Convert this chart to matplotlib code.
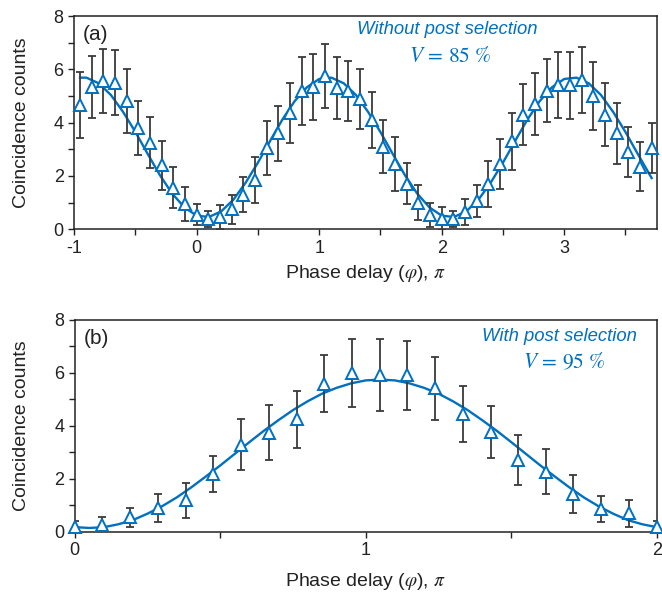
import matplotlib
matplotlib.use("Agg")
import matplotlib.pyplot as plt
from matplotlib.ticker import MultipleLocator

plt.rcParams['font.family'] = ['Liberation Sans', 'DejaVu Sans']
plt.rcParams['mathtext.fontset'] = 'stix'
plt.rcParams['axes.unicode_minus'] = False

BLUE = '#0070C0'
BAR = '#3a3a3a'

######## data, panel (a): without post selection #########

phase_a = [-0.952, -0.857, -0.762, -0.667, -0.571, -0.476, -0.381, -0.286, -0.190, -0.095,
           0.000, 0.095, 0.190, 0.286, 0.381, 0.476, 0.571, 0.667, 0.762, 0.857,
           0.952, 1.048, 1.143, 1.238, 1.333, 1.429, 1.524, 1.619, 1.714, 1.810,
           1.905, 2.000, 2.095, 2.190, 2.286, 2.381, 2.476, 2.571, 2.667, 2.762,
           2.857, 2.952, 3.048, 3.143, 3.238, 3.333, 3.429, 3.524, 3.619, 3.714]
counts_a = [4.65, 5.35, 5.55, 5.5, 4.8, 3.8, 3.25, 2.4, 1.55, 0.95,
            0.55, 0.4, 0.45, 0.75, 1.3, 1.85, 3.05, 3.6, 4.35, 5.2,
            5.35, 5.75, 5.3, 5.2, 4.9, 4.1, 3.1, 2.45, 1.7, 1.0,
            0.55, 0.4, 0.4, 0.65, 1.05, 1.7, 2.45, 3.3, 4.3, 4.7,
            5.2, 5.4, 5.4, 5.6, 5.0, 4.3, 3.6, 2.9, 2.35, 3.05]
err_a = [1.24, 1.17, 1.2, 1.22, 1.2, 1.0, 0.95, 0.92, 0.77, 0.63,
         0.4, 0.3, 0.45, 0.55, 0.65, 0.87, 1.0, 1.03, 1.13, 1.28,
         1.24, 1.19, 1.18, 1.12, 1.13, 1.05, 1.0, 1.0, 0.77, 0.65,
         0.45, 0.42, 0.3, 0.5, 0.6, 0.85, 0.94, 1.07, 1.15, 1.18,
         1.18, 1.24, 1.25, 1.23, 1.26, 1.19, 1.15, 0.94, 0.93, 0.92]

# fit line
fit_x_a = [-0.952, -0.9, -0.8, -0.7, -0.6, -0.5, -0.4, -0.3, -0.2, -0.1,
           0.0, 0.1, 0.2, 0.3, 0.4, 0.5, 0.6, 0.7, 0.8, 0.9,
           1.0, 1.1, 1.2, 1.3, 1.4, 1.5, 1.6, 1.7, 1.8, 1.9,
           2.0, 2.1, 2.2, 2.3, 2.4, 2.5, 2.6, 2.7, 2.8, 2.9,
           3.0, 3.1, 3.2, 3.3, 3.4, 3.5, 3.6, 3.7, 3.714]
fit_y_a = [5.69, 5.69, 5.48, 5.04, 4.40, 3.65, 2.83, 2.03, 1.34, 0.82,
           0.51, 0.46, 0.67, 1.11, 1.75, 2.50, 3.32, 4.12, 4.81, 5.33,
           5.64, 5.69, 5.48, 5.04, 4.40, 3.65, 2.83, 2.03, 1.34, 0.82,
           0.51, 0.46, 0.67, 1.11, 1.75, 2.50, 3.32, 4.12, 4.81, 5.33,
           5.64, 5.69, 5.48, 5.04, 4.40, 3.65, 2.83, 2.03, 1.92]

######## data, panel (b): with post selection #########

phase_b = [0.000, 0.095, 0.190, 0.286, 0.381, 0.476, 0.571, 0.667, 0.762, 0.857, 0.952,
           1.048, 1.143, 1.238, 1.333, 1.429, 1.524, 1.619, 1.714, 1.810, 1.905, 2.000]
counts_b = [0.2, 0.25, 0.55, 0.9, 1.2, 2.2, 3.3, 3.75, 4.25, 5.6, 6.0,
            5.92, 5.92, 5.42, 4.46, 3.76, 2.72, 2.28, 1.42, 0.87, 0.7, 0.2]
err_b = [0.2, 0.33, 0.37, 0.52, 0.66, 0.68, 0.95, 1.05, 1.07, 1.07, 1.3,
         1.37, 1.3, 1.2, 1.06, 0.98, 0.93, 0.85, 0.72, 0.5, 0.5, 0.22]

fit_x_b = [0.0, 0.05, 0.1, 0.15, 0.2, 0.25, 0.3, 0.35, 0.4, 0.45, 0.5,
           0.55, 0.6, 0.65, 0.7, 0.75, 0.8, 0.85, 0.9, 0.95, 1.0,
           1.05, 1.1, 1.15, 1.2, 1.25, 1.3, 1.35, 1.4, 1.45, 1.5,
           1.55, 1.6, 1.65, 1.7, 1.75, 1.8, 1.85, 1.9, 1.95, 2.0]
fit_y_b = [0.18, 0.15, 0.18, 0.29, 0.45, 0.69, 0.97, 1.30, 1.68, 2.09, 2.51,
           2.95, 3.39, 3.82, 4.22, 4.60, 4.93, 5.22, 5.44, 5.61, 5.72,
           5.75, 5.72, 5.61, 5.44, 5.22, 4.93, 4.60, 4.22, 3.82, 3.39,
           2.95, 2.51, 2.09, 1.68, 1.30, 0.97, 0.69, 0.45, 0.29, 0.18]

fig = plt.figure(figsize=(6.62, 5.97), dpi=100)
ax_a = fig.add_axes([0.112, 0.616, 0.880, 0.357])
ax_b = fig.add_axes([0.113, 0.109, 0.879, 0.355])


def draw_panel(ax, x, y, err, fx, fy, xlim, tag, title, vis, tpos, vpos):
    ax.plot(fx, fy, color=BLUE, lw=1.7, zorder=2)
    ax.errorbar(x, y, yerr=err, fmt='none', ecolor=BAR, elinewidth=1.3,
                capsize=3, capthick=1.3, zorder=3)
    ax.plot(x, y, ls='none', marker='^', ms=9, mfc='white', mec=BLUE,
            mew=1.4, zorder=4, clip_on=False)
    ax.set_xlim(*xlim)
    ax.set_ylim(0, 8)
    ax.xaxis.set_major_locator(MultipleLocator(1))
    ax.xaxis.set_minor_locator(MultipleLocator(0.5))
    ax.yaxis.set_major_locator(MultipleLocator(2))
    ax.yaxis.set_minor_locator(MultipleLocator(1))
    ax.tick_params(which='both', direction='out', length=4, width=1,
                   colors='#222222', labelsize=13)
    for s in ax.spines.values():
        s.set_linewidth(1.1)
        s.set_color('#222222')
    ax.set_ylabel('Coincidence counts', fontsize=14, color='#222222')
    ax.set_xlabel(r'Phase delay ($\varphi$), $\pi$', fontsize=14, color='#222222')
    ax.text(0.015, 0.915, tag, transform=ax.transAxes, fontsize=15,
            ha='left', va='center', color='#222222')
    ax.text(tpos[0], tpos[1], title, transform=ax.transAxes, fontsize=13.3,
            style='italic', color=BLUE, ha='center', va='center')
    ax.text(vpos[0], vpos[1], vis, transform=ax.transAxes, fontsize=15.5,
            color=BLUE, ha='center', va='center')


draw_panel(ax_a, phase_a, counts_a, err_a, fit_x_a, fit_y_a, (-1, 3.755), '(a)',
           'Without post selection', r'$V\,=\,85\ \%$', (0.641, 0.939), (0.645, 0.81))
draw_panel(ax_b, phase_b, counts_b, err_b, fit_x_b, fit_y_b, (0, 2), '(b)',
           'With post selection', r'$V\,=\,95\ \%$', (0.833, 0.921), (0.842, 0.80))

ax_a.xaxis.set_label_coords(0.5, -0.16)
ax_a.yaxis.set_label_coords(-0.075, 0.5)
ax_b.xaxis.set_label_coords(0.5, -0.184)
ax_b.yaxis.set_label_coords(-0.077, 0.5)

fig.savefig('out.png', dpi=100)
